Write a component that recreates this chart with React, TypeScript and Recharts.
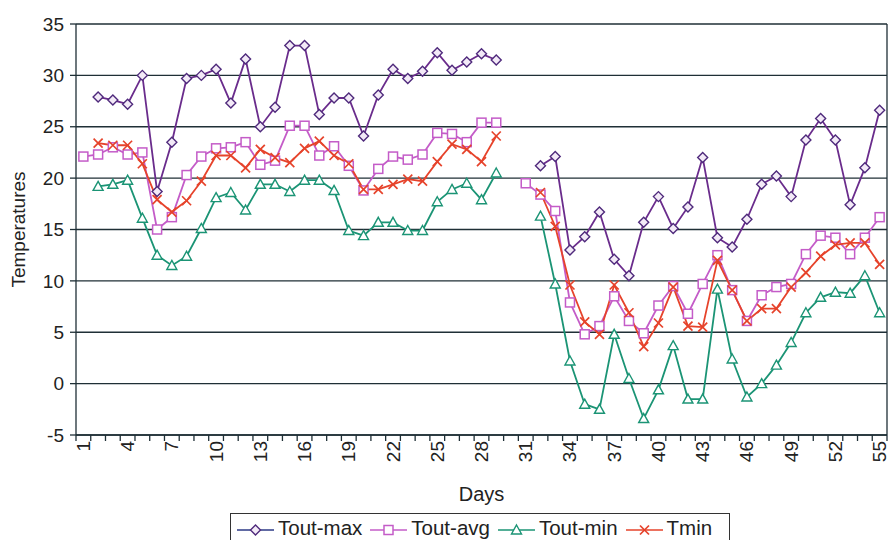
import React from 'react';
import { LineChart, Line, XAxis, YAxis, CartesianGrid, Legend } from 'recharts';

const days = [
  1, 2, 3, 4, 5, 6, 7, 8, 9, 10, 11, 12, 13, 14, 15, 16, 17, 18, 19, 20,
  21, 22, 23, 24, 25, 26, 27, 28, 29, 30, 31, 32, 33, 34, 35, 36, 37, 38, 39, 40,
  41, 42, 43, 44, 45, 46, 47, 48, 49, 50, 51, 52, 53, 54, 55,
];

const toutMax = [
  null, 27.9, 27.6, 27.2, 30.0, 18.7, 23.5, 29.7, 30.0, 30.6, 27.3, 31.6, 25.0, 26.9, 32.9, 32.9, 26.2, 27.8, 27.8, 24.1,
  28.1, 30.6, 29.7, 30.4, 32.2, 30.5, 31.3, 32.1, 31.5, null, null, 21.2, 22.1, 13.0, 14.3, 16.7, 12.1, 10.5, 15.7, 18.2,
  15.1, 17.2, 22.0, 14.2, 13.3, 16.0, 19.4, 20.2, 18.2, 23.7, 25.8, 23.7, 17.4, 21.0, 26.6,
];

const toutAvg = [
  22.1, 22.3, 23.0, 22.3, 22.5, 15.0, 16.2, 20.3, 22.1, 22.9, 23.0, 23.5, 21.3, 21.7, 25.1, 25.1, 22.2, 23.1, 21.2, 18.8,
  20.9, 22.1, 21.8, 22.3, 24.4, 24.3, 23.5, 25.4, 25.4, null, 19.5, 18.4, 16.8, 7.9, 4.8, 5.6, 8.5, 6.1, 4.9, 7.6,
  9.5, 6.8, 9.7, 12.5, 9.1, 6.1, 8.6, 9.4, 9.7, 12.6, 14.4, 14.2, 12.6, 14.2, 16.2,
];

const toutMin = [
  null, 19.2, 19.4, 19.8, 16.1, 12.5, 11.5, 12.4, 15.1, 18.1, 18.6, 16.9, 19.4, 19.4, 18.7, 19.8, 19.8, 18.8, 14.9, 14.4,
  15.7, 15.7, 14.9, 14.9, 17.7, 18.9, 19.5, 17.9, 20.5, null, null, 16.3, 9.7, 2.2, -2.0, -2.5, 4.8, 0.5, -3.4, -0.6,
  3.7, -1.5, -1.5, 9.2, 2.4, -1.3, 0.0, 1.8, 4.0, 6.9, 8.4, 8.9, 8.8, 10.5, 6.9,
];

const tmin = [
  null, 23.4, 23.2, 23.2, 21.4, 17.9, 16.7, 17.8, 19.7, 22.2, 22.2, 21.0, 22.8, 22.0, 21.5, 22.9, 23.6, 22.2, 21.4, 18.9,
  18.9, 19.4, 19.9, 19.7, 21.6, 23.3, 22.8, 21.6, 24.1, null, null, 18.6, 15.3, 9.6, 6.0, 4.8, 9.6, 6.9, 3.6, 5.9,
  9.4, 5.6, 5.5, 12.0, 9.1, 6.1, 7.3, 7.3, 9.4, 10.8, 12.4, 13.5, 13.7, 13.7, 11.6,
];

const yTicks = [-5, 0, 5, 10, 15, 20, 25, 30, 35];
const dayLabels = [1, 4, 7, 10, 13, 16, 19, 22, 25, 28, 31, 34, 37, 40, 43, 46, 49, 52, 55];

const data = days.map((d, i) => ({
  day: d,
  toutMax: toutMax[i],
  toutAvg: toutAvg[i],
  toutMin: toutMin[i],
  tmin: tmin[i],
}));

// tick marks sit between days, labels on every third day
const boundaries = days.map((d) => d - 0.5).concat([days[days.length - 1] + 0.5]);
const xTicks = [...boundaries, ...dayLabels].sort((a, b) => a - b);

const FONT = '"Liberation Sans", Arial, sans-serif';
const AXIS = '#1f2f36';
const C_MAX = '#6a2c8c';
const C_AVG = '#c45cc8';
const C_MIN = '#1b9475';
const C_TMIN = '#e6432b';

function Marker({ kind, cx, cy, color }: any) {
  if (kind === 'diamond')
    return <polygon points={`${cx},${cy - 5} ${cx + 5},${cy} ${cx},${cy + 5} ${cx - 5},${cy}`} fill="#f3eaf7" stroke="#4f2a7c" strokeWidth={1.4} />;
  if (kind === 'square')
    return <rect x={cx - 4.5} y={cy - 4.5} width={9} height={9} fill="#fff" stroke={color} strokeWidth={1.5} />;
  if (kind === 'triangle')
    return <polygon points={`${cx},${cy - 5} ${cx + 5},${cy + 4} ${cx - 5},${cy + 4}`} fill="#fff" stroke={color} strokeWidth={1.4} />;
  return (
    <g stroke={color} strokeWidth={1.7}>
      <line x1={cx - 4.5} y1={cy - 4.5} x2={cx + 4.5} y2={cy + 4.5} />
      <line x1={cx - 4.5} y1={cy + 4.5} x2={cx + 4.5} y2={cy - 4.5} />
    </g>
  );
}

const makeDot = (kind: string, color: string) => (props: any) => {
  const { cx, cy, index, value } = props;
  if (cx == null || cy == null || value == null) return <g key={`e-${kind}-${index}`} />;
  return (
    <g key={`${kind}-${index}`}>
      <Marker kind={kind} cx={cx} cy={cy} color={color} />
    </g>
  );
};

function DayTick({ x, y, payload }: any) {
  const v = payload.value;
  if (!Number.isInteger(v)) return <line x1={x} x2={x} y1={y} y2={y + 6} stroke={AXIS} strokeWidth={1.3} />;
  const ty = y + 6;
  return (
    <text x={x} y={ty} transform={`rotate(-90 ${x} ${ty})`} textAnchor="end" dominantBaseline="central"
      fontSize={19} fill="#222" fontFamily={FONT}>
      {v}
    </text>
  );
}

const legendItems = [
  { name: 'Tout-max', kind: 'diamond', color: '#2c3a86' },
  { name: 'Tout-avg', kind: 'square', color: C_AVG },
  { name: 'Tout-min', kind: 'triangle', color: C_MIN },
  { name: 'Tmin', kind: 'x', color: C_TMIN },
];

function LegendBox() {
  return (
    <div style={{ height: 32, boxSizing: 'border-box', border: '1.5px solid #333', display: 'flex', alignItems: 'flex-start',
      padding: '2px 0 0 6px', fontFamily: FONT, fontSize: 20.5, lineHeight: '23px', color: '#222', background: '#fff' }}>
      {legendItems.map((it) => (
        <span key={it.name} style={{ display: 'flex', alignItems: 'flex-start', marginRight: 8 }}>
          <svg width={37} height={14} style={{ display: 'block', marginTop: 7 }}>
            <line x1={0} x2={37} y1={7} y2={7} stroke={it.color} strokeWidth={1.6} />
            <Marker kind={it.kind} cx={18.5} cy={7} color={it.color} />
          </svg>
          <span style={{ marginLeft: 4 }}>{it.name}</span>
        </span>
      ))}
    </div>
  );
}

export default function App() {
  return (
    <div style={{ position: 'absolute', left: 0, top: 0, width: 891, height: 540, background: '#fff' }}>
      <LineChart width={891} height={540} data={data} margin={{ top: 24, right: 4, bottom: 0, left: 0 }}>
        <CartesianGrid vertical horizontal stroke={AXIS} strokeWidth={1.3}
          verticalCoordinatesGenerator={({ offset }: any) => [offset.left + offset.width]} />
        <XAxis dataKey="day" type="number" domain={[0.5, 55.5]} ticks={xTicks} interval={0}
          tickLine={false} tickSize={0} tickMargin={0} height={73} stroke={AXIS} strokeWidth={1.3}
          tick={<DayTick />}
          label={{
            content: ({ viewBox }: any) => (
              <text x={viewBox.x + viewBox.width / 2} y={viewBox.y + 66} textAnchor="middle" fontSize={20}
                fill="#222" fontFamily={FONT}>Days</text>
            ),
          }} />
        <YAxis domain={[-5, 35]} ticks={yTicks} interval={0} width={76} stroke={AXIS} strokeWidth={1.3}
          tickSize={6} tickMargin={6}
          tick={{ fontSize: 19, fill: '#222', fontFamily: FONT }}
          label={{
            content: ({ viewBox }: any) => {
              const cy = viewBox.y + viewBox.height / 2;
              return (
                <text x={18} y={cy} transform={`rotate(-90 18 ${cy})`} textAnchor="middle" dominantBaseline="central"
                  fontSize={19} fill="#222" fontFamily={FONT}>Temperatures</text>
              );
            },
          }} />
        <Legend verticalAlign="bottom" content={<LegendBox />}
          wrapperStyle={{ left: 230, width: 500, bottom: -5 }} />
        <Line dataKey="toutMax" name="Tout-max" stroke={C_MAX} strokeWidth={1.8} dot={makeDot('diamond', C_MAX)}
          isAnimationActive={false} />
        <Line dataKey="toutAvg" name="Tout-avg" stroke={C_AVG} strokeWidth={1.8} dot={makeDot('square', C_AVG)}
          isAnimationActive={false} />
        <Line dataKey="toutMin" name="Tout-min" stroke={C_MIN} strokeWidth={1.8} dot={makeDot('triangle', C_MIN)}
          isAnimationActive={false} />
        <Line dataKey="tmin" name="Tmin" stroke={C_TMIN} strokeWidth={1.8} dot={makeDot('x', C_TMIN)}
          isAnimationActive={false} />
      </LineChart>
    </div>
  );
}
